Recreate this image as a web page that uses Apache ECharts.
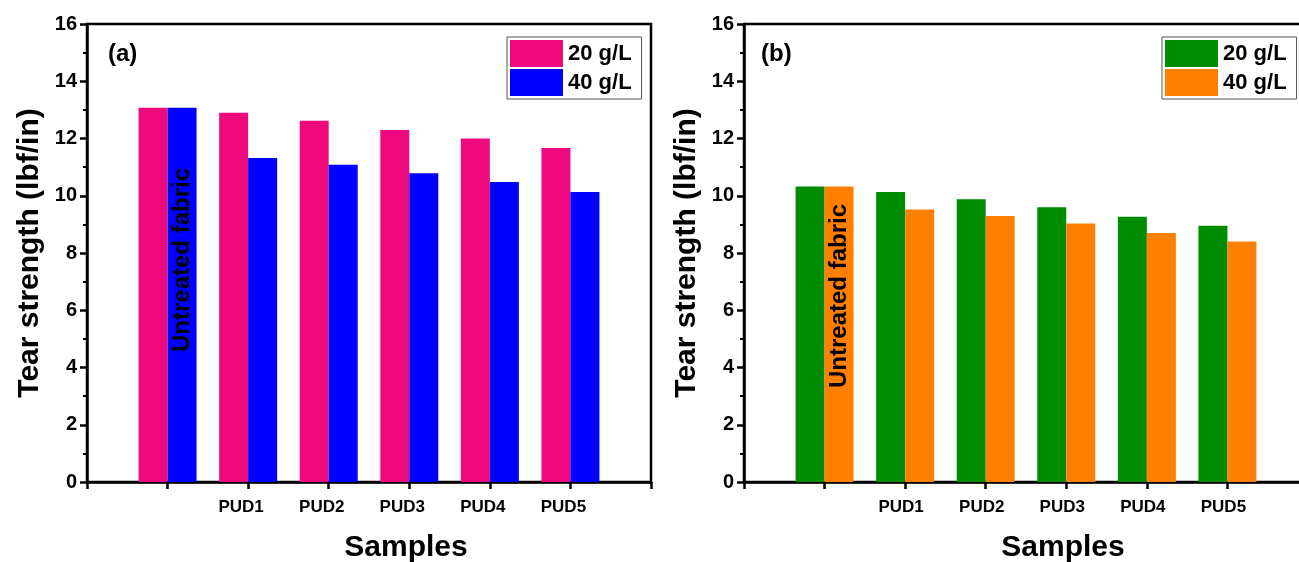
<!DOCTYPE html>
<html>
<head>
<meta charset="utf-8">
<script src="https://cdn.jsdelivr.net/npm/echarts@6/dist/echarts.min.js"></script>
<style>
html,body{margin:0;padding:0;background:#fff;}
#chart{width:1299px;height:562px;}
</style>
</head>
<body>
<div id="chart"></div>
<script>
// ---- data ----
const categories = ['Untreated fabric', 'PUD1', 'PUD2', 'PUD3', 'PUD4', 'PUD5'];
const seriesNames = ['20 g/L', '40 g/L'];
const panelA_20 = [13.07, 12.90, 12.62, 12.30, 12.00, 11.67];
const panelA_40 = [13.07, 11.32, 11.08, 10.79, 10.48, 10.13];
const panelB_20 = [10.32, 10.13, 9.88, 9.60, 9.27, 8.95];
const panelB_40 = [10.32, 9.52, 9.29, 9.03, 8.70, 8.40];
const yTicks = [0, 2, 4, 6, 8, 10, 12, 14, 16];
const panelLabels = ['(a)', '(b)'];
const colorsA = ['#EE0A7E', '#0000FF'];
const colorsB = ['#008C00', '#FF8000'];

const FONT = '"Liberation Sans", Arial, sans-serif';
const axisCats = [''].concat(categories).concat(['']);

function pad(vals) { return ['-'].concat(vals).concat(['-']); }

function withUntreatedLabel(vals, offs) {
  const d = pad(vals).map(v => (v === '-' ? '-' : { value: v }));
  d[1] = {
    value: vals[0],
    label: {
      show: true,
      formatter: categories[0],
      position: 'insideBottom',
      rotate: 90,
      align: 'left',
      verticalAlign: 'middle',
      offset: [offs, 0],
      color: '#000',
      fontFamily: FONT,
      fontWeight: 'bold',
      fontSize: 24
    }
  };
  return d;
}

const grids = [
  { left: 87, top: 24, width: 564, height: 458 },
  { left: 744, top: 24, width: 564, height: 458 }
];

function xAxis(i, shift) {
  return {
    gridIndex: i,
    type: 'category',
    data: axisCats,
    boundaryGap: false,
    axisLine: { show: true, lineStyle: { color: '#000', width: 2.5 } },
    axisTick: { show: true, interval: 0, length: 7, lineStyle: { color: '#000', width: 2.5 } },
    axisLabel: {
      interval: 0, margin: 17, color: '#000', fontFamily: FONT, fontWeight: 'bold', fontSize: 17,
      padding: [0, shift, 0, 0],
      formatter: v => (v === categories[0] ? '' : v)
    },
    splitLine: { show: false },
    name: 'Samples',
    nameLocation: 'middle',
    nameGap: 51,
    nameTextStyle: { color: '#000', fontFamily: FONT, fontWeight: 'bold', fontSize: 30, padding: [0, 0, 0, 74] }
  };
}

function yAxis(i) {
  return {
    gridIndex: i,
    type: 'value',
    min: yTicks[0],
    max: yTicks[yTicks.length - 1],
    interval: yTicks[1] - yTicks[0],
    axisLine: { show: true, lineStyle: { color: '#000', width: 2.5 } },
    axisTick: { show: true, length: 7, lineStyle: { color: '#000', width: 2.5 } },
    minorTick: { show: true, splitNumber: 2, length: 4, lineStyle: { color: '#000', width: 2 } },
    axisLabel: { margin: 10, color: '#000', fontFamily: FONT, fontWeight: 'bold', fontSize: 20 },
    splitLine: { show: false },
    minorSplitLine: { show: false },
    name: 'Tear strength (lbf/in)',
    nameLocation: 'middle',
    nameGap: 42,
    nameTextStyle: { color: '#000', fontFamily: FONT, fontWeight: 'bold', fontSize: 30 }
  };
}

function barSeries(name, panel, data, color) {
  return {
    id: name + '-' + panel,
    name: name + ' (' + panel + ')',
    type: 'bar',
    xAxisIndex: panel === 'a' ? 0 : 1,
    yAxisIndex: panel === 'a' ? 0 : 1,
    data: data,
    barWidth: 29,
    barGap: '0%',
    itemStyle: { color: color },
    emphasis: { disabled: true },
    animation: false
  };
}

function legend(panel, left) {
  return {
    data: seriesNames.map(n => n + ' (' + panel + ')'),
    formatter: n => n.split(' (')[0],
    orient: 'vertical',
    left: left,
    top: 37,
    itemWidth: 53,
    itemHeight: 27,
    itemGap: 2,
    icon: 'rect',
    borderColor: '#555',
    borderWidth: 1,
    padding: [3, 10, 3, 3],
    selectedMode: false,
    textStyle: { color: '#000', fontFamily: FONT, fontWeight: 'bold', fontSize: 22 }
  };
}

const titleStyle = { color: '#000', fontFamily: FONT, fontWeight: 'bold', fontSize: 24 };

const option = {
  backgroundColor: '#fff',
  animation: false,
  title: [
    { text: panelLabels[0], left: 103, top: 37, textStyle: titleStyle },
    { text: panelLabels[1], left: 756, top: 37, textStyle: titleStyle }
  ],
  legend: [legend('a', 507), legend('b', 1162)],
  grid: grids.map(g => Object.assign({
    show: true, borderColor: '#000', borderWidth: 2.5, backgroundColor: 'transparent',
    containLabel: false, outerBoundsMode: 'none'
  }, g)),
  xAxis: [xAxis(0, 14), xAxis(1, 8)],
  yAxis: [yAxis(0), yAxis(1)],
  series: [
    barSeries(seriesNames[0], 'a', pad(panelA_20), colorsA[0]),
    barSeries(seriesNames[1], 'a', withUntreatedLabel(panelA_40, 125), colorsA[1]),
    barSeries(seriesNames[0], 'b', pad(panelB_20), colorsB[0]),
    barSeries(seriesNames[1], 'b', withUntreatedLabel(panelB_40, 89), colorsB[1])
  ]
};

const chart = echarts.init(document.getElementById('chart'), null, { renderer: 'canvas' });
chart.setOption(option);
</script>
</body>
</html>
